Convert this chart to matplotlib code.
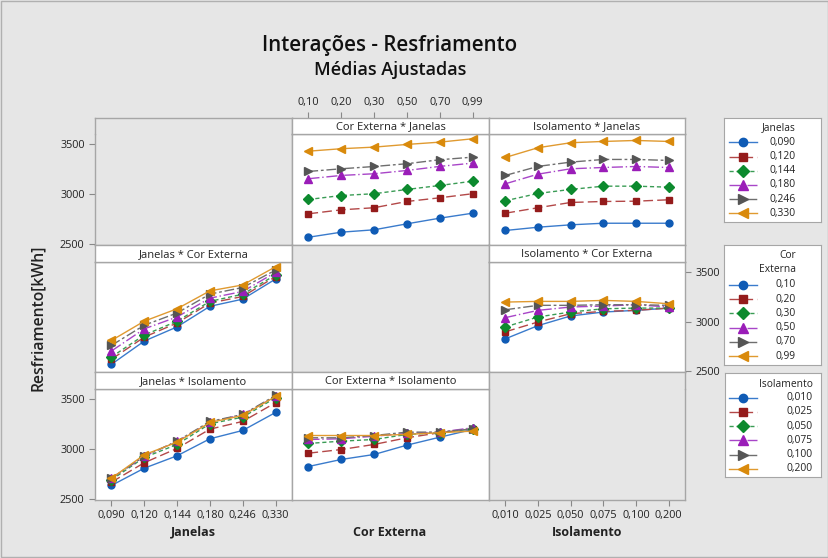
import numpy as np
import matplotlib.pyplot as plt
from matplotlib.lines import Line2D

plt.rcParams['font.family'] = ['Open Sans', 'DejaVu Sans']

janelas = ['0,090', '0,120', '0,144', '0,180', '0,246', '0,330']
cor_externa = ['0,10', '0,20', '0,30', '0,50', '0,70', '0,99']
isolamento = ['0,010', '0,025', '0,050', '0,075', '0,100', '0,200']

# fitted means, rows = Janelas, columns = Cor Externa
cor_janelas = np.array([
    [2566, 2617, 2641, 2701, 2758, 2808],
    [2802, 2842, 2863, 2926, 2963, 3004],
    [2946, 2986, 3004, 3047, 3087, 3130],
    [3155, 3188, 3205, 3238, 3279, 3312],
    [3228, 3255, 3278, 3306, 3346, 3372],
    [3432, 3457, 3473, 3500, 3523, 3557],
])
# rows = Janelas, columns = Isolamento
iso_janelas = np.array([
    [2634, 2667, 2691, 2707, 2707, 2707],
    [2808, 2863, 2916, 2926, 2929, 2943],
    [2933, 3007, 3047, 3080, 3080, 3070],
    [3104, 3201, 3255, 3268, 3278, 3268],
    [3188, 3279, 3322, 3349, 3349, 3339],
    [3369, 3467, 3517, 3530, 3540, 3530],
])
# rows = Isolamento, columns = Cor Externa
cor_iso = np.array([
    [2825, 2896, 2946, 3040, 3120, 3198],
    [2959, 2996, 3047, 3114, 3165, 3205],
    [3057, 3080, 3097, 3148, 3165, 3205],
    [3097, 3104, 3130, 3158, 3171, 3215],
    [3114, 3114, 3137, 3171, 3171, 3205],
    [3137, 3137, 3137, 3148, 3165, 3181],
])

yticks = [2500, 3000, 3500]

mcolors = ['#0f5bb5', '#941b1b', '#0c8a2e', '#9a1db8', '#555555', '#d98a0c']
lcolors = ['#3a7bcc', '#b34848', '#3a9c55', '#a845c8', '#6e6e6e', '#e09a30']
markers = ['o', 's', 'D', '^', '>', '<']
msizes = [5.0, 5.0, 5.0, 6.0, 6.0, 6.0]
dashes = ['-', (0, (7, 3)), (0, (3, 2)), (0, (8, 2, 1, 2)), (0, (7, 2, 2, 2)), '-']

BG = '#e6e6e6'
EDGE = '#a6a6a6'
TXT = '#222222'
W, H = 829, 558

fig = plt.figure(figsize=(W / 100, H / 100), dpi=100, facecolor=BG)


def fbox(x0, y0, x1, y1):
    return [x0 / W, 1 - y1 / H, (x1 - x0) / W, (y1 - y0) / H]


col_x = [95, 292, 489, 685]
row_y = [(118, 134, 245), (245, 262, 372), (372, 389, 500)]
YLIM = (2488, 3605)

panels = {
    (0, 1): ('Cor Externa * Janelas', cor_janelas),
    (0, 2): ('Isolamento * Janelas', iso_janelas),
    (1, 0): ('Janelas * Cor Externa', cor_janelas.T),
    (1, 2): ('Isolamento * Cor Externa', cor_iso.T),
    (2, 0): ('Janelas * Isolamento', iso_janelas.T),
    (2, 1): ('Cor Externa * Isolamento', cor_iso),
}

axes = {}
strips = {}
for r in range(3):
    for c in range(3):
        top, mid, bot = row_y[r]
        x0, x1 = col_x[c], col_x[c + 1]
        ax = fig.add_axes(fbox(x0, mid, x1, bot))
        sax = fig.add_axes(fbox(x0, top, x1, mid))
        for a in (ax, sax):
            a.set_xlim(0.5, 6.5)
            a.tick_params(left=False, bottom=False, labelleft=False, labelbottom=False,
                          colors='#888888', labelcolor=TXT, labelsize=7.8, length=4)
            for s in a.spines.values():
                s.set_color(EDGE)
                s.set_linewidth(1.0)
        ax.set_ylim(*YLIM)
        sax.set_ylim(0, 1)
        if (r, c) in panels:
            title, vals = panels[(r, c)]
            ax.set_facecolor('white')
            sax.set_facecolor('white')
            sax.text(0.5, 0.45, title, transform=sax.transAxes, ha='center', va='center',
                     fontsize=8.0, color=TXT)
            x = np.arange(1, vals.shape[1] + 1)
            for i, row in enumerate(vals):
                ax.plot(x, row, color=lcolors[i], linestyle=dashes[i], linewidth=1.0,
                        marker=markers[i], markersize=msizes[i], markerfacecolor=mcolors[i],
                        markeredgecolor=mcolors[i], zorder=3 + i)
        else:
            ax.set_facecolor(BG)
            sax.set_facecolor(BG)
            ax.spines['top'].set_visible(False)
            sax.spines['bottom'].set_visible(False)
        axes[(r, c)] = ax
        strips[(r, c)] = sax

# y axes: left on rows 1 and 3, right on row 2
for key in [(0, 0), (2, 0)]:
    axes[key].set_yticks(yticks)
    axes[key].tick_params(left=True, labelleft=True)
axes[(1, 2)].set_yticks(yticks)
axes[(1, 2)].tick_params(right=True, labelright=True)

# x axes: Cor Externa on top, Janelas and Isolamento at the bottom
s = strips[(0, 1)]
s.set_xticks(range(1, 7))
s.set_xticklabels(cor_externa)
s.tick_params(top=True, labeltop=True)
for key, labels in [((2, 0), janelas), ((2, 2), isolamento)]:
    axes[key].set_xticks(range(1, 7))
    axes[key].set_xticklabels(labels)
    axes[key].tick_params(bottom=True, labelbottom=True)

for xc, name in [(193, 'Janelas'), (390, 'Cor Externa'), (587, 'Isolamento')]:
    fig.text(xc / W, 1 - 532 / H, name, ha='center', va='center', fontsize=9.0,
             fontweight='bold', color=TXT)

fig.text(38 / W, 1 - 318 / H, 'Resfriamento[kWh]', rotation=90, ha='center', va='center',
         fontsize=11.3, fontweight='semibold', color=TXT)
fig.text(390 / W, 1 - 46 / H, 'Interações - Resfriamento', ha='center', va='center',
         fontsize=14.8, fontweight='semibold', color='#111111')
fig.text(390 / W, 1 - 70 / H, 'Médias Ajustadas', ha='center', va='center',
         fontsize=13.0, fontweight='semibold', color='#111111')

# legends
legends = [
    (['Janelas'], janelas, (724, 118, 821, 222), [128], 142.3, 796),
    (['Cor', 'Externa'], cor_externa, (724, 245, 821, 365), [256, 270], 285, 796),
    (['Isolamento'], isolamento, (725, 373, 821, 477), [384], 397.7, 813),
]
for titles, labels, (x0, y0, x1, y1), ty, ey, xr in legends:
    lax = fig.add_axes(fbox(x0, y0, x1, y1))
    lax.set_xlim(x0, x1)
    lax.set_ylim(y1, y0)
    lax.set_xticks([])
    lax.set_yticks([])
    lax.set_facecolor('white')
    for sp in lax.spines.values():
        sp.set_color(EDGE)
    for t, yy in zip(titles, ty):
        lax.text(xr, yy, t, ha='right', va='center', fontsize=7.4, color=TXT)
    for i, lab in enumerate(labels):
        yy = ey + i * 14.2
        lax.add_line(Line2D([729, 757], [yy, yy], color=lcolors[i], linestyle=dashes[i],
                            linewidth=1.0))
        lax.plot([743], [yy], marker=markers[i], markersize=msizes[i] + 1.0,
                 color=mcolors[i], linestyle='none')
        lax.text(xr, yy, lab, ha='right', va='center', fontsize=7.4, color=TXT)

fig.patches.append(plt.Rectangle((0.001, 0.001), 0.998, 0.998, transform=fig.transFigure,
                                 fill=False, edgecolor='#b0b0b0', linewidth=1))

fig.savefig('out.png', dpi=100, facecolor=BG)
